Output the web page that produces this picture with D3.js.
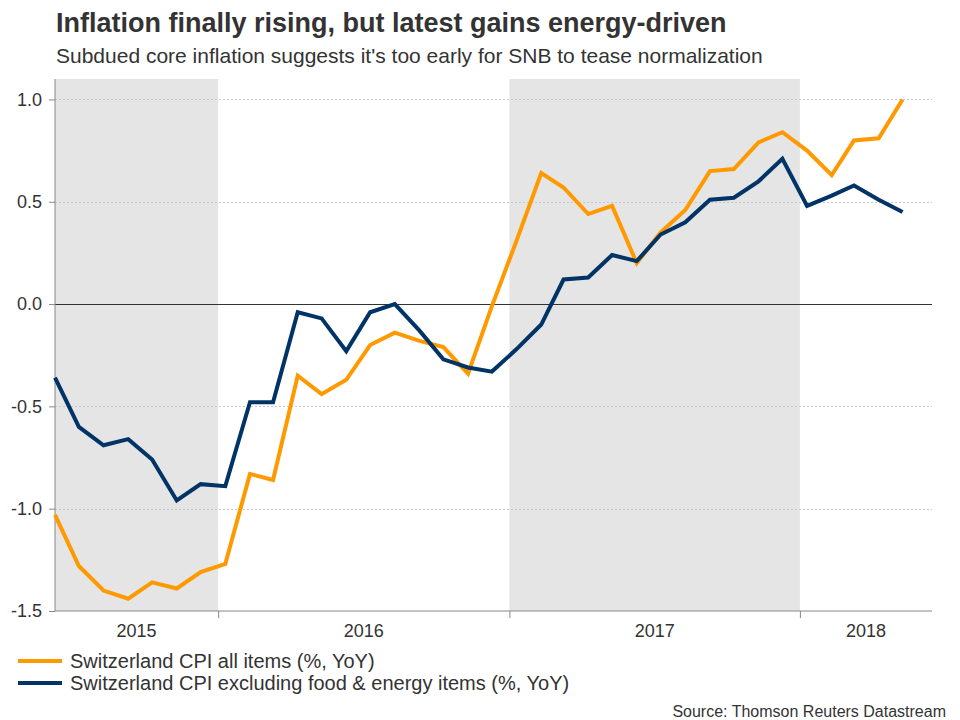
<!DOCTYPE html>
<html>
<head>
<meta charset="utf-8">
<script src="https://cdn.jsdelivr.net/npm/d3@7"></script>
<style>
  body { margin: 0; background: #fff; }
  svg { display: block; font-family: 'Liberation Sans', Arial, sans-serif; }
</style>
</head>
<body>
<div id="chart"></div>
<script>
// monthly readings, Jun 2015 - May 2018
const months = [
  '2015-06', '2015-07', '2015-08', '2015-09', '2015-10', '2015-11', '2015-12',
  '2016-01', '2016-02', '2016-03', '2016-04', '2016-05', '2016-06',
  '2016-07', '2016-08', '2016-09', '2016-10', '2016-11', '2016-12',
  '2017-01', '2017-02', '2017-03', '2017-04', '2017-05', '2017-06',
  '2017-07', '2017-08', '2017-09', '2017-10', '2017-11', '2017-12',
  '2018-01', '2018-02', '2018-03', '2018-04', '2018-05'
];

const cpiAll = [
  -1.03, -1.28, -1.40, -1.44, -1.36, -1.39, -1.31,
  -1.27, -0.83, -0.86, -0.35, -0.44, -0.37,
  -0.20, -0.14, -0.18, -0.21, -0.34, -0.01,
  0.31, 0.64, 0.57, 0.44, 0.48, 0.20,
  0.35, 0.46, 0.65, 0.66, 0.79, 0.84,
  0.75, 0.63, 0.80, 0.81, 1.00
];

const cpiCore = [
  -0.36, -0.60, -0.69, -0.66, -0.76, -0.96, -0.88,
  -0.89, -0.48, -0.48, -0.04, -0.07, -0.23,
  -0.04, 0.00, -0.13, -0.27, -0.31, -0.33,
  -0.22, -0.10, 0.12, 0.13, 0.24, 0.21,
  0.34, 0.40, 0.51, 0.52, 0.60, 0.71,
  0.48, 0.53, 0.58, 0.51, 0.45
];

const yTicks = [-1.5, -1.0, -0.5, 0.0, 0.5, 1.0];
const years = [2015, 2016, 2017, 2018];
const shadedYears = [2015, 2017];

const seriesNames = [
  'Switzerland CPI all items (%, YoY)',
  'Switzerland CPI excluding food & energy items (%, YoY)'
];
const seriesColors = ['#ff9900', '#003366'];

const W = 960, H = 720;
const margin = { top: 79, bottom: 109, left: 55, right: 28 };

const svg = d3
  .select('#chart')
  .append('svg')
  .attr('width', W)
  .attr('height', H);

const parse = d3.timeParse('%Y-%m-%d');
const dates = months.map((m) => parse(m + '-10'));

const x = d3
  .scaleTime()
  .domain([parse('2015-06-10'), parse('2018-06-16')])
  .range([margin.left, W - margin.right]);

const y = d3
  .scaleLinear()
  .domain([-1.5, 1.1])
  .range([H - margin.bottom, margin.top]);

const [x0, x1] = x.range();
const [yb, yt] = y.range();
const fmt = (d) => d3.format('.1f')(d).replace('\u2212', '-');

// shaded year bands
svg
  .selectAll('rect.band')
  .data(shadedYears)
  .enter()
  .append('rect')
  .attr('class', 'band')
  .attr('x', (d) => Math.max(x0, x(new Date(d, 0, 1))))
  .attr('width', (d) => Math.min(x1, x(new Date(d + 1, 0, 1))) - Math.max(x0, x(new Date(d, 0, 1))))
  .attr('y', yt)
  .attr('height', yb - yt)
  .attr('fill', '#e5e5e5');

// dotted grid
svg
  .selectAll('line.grid')
  .data(yTicks.filter((d) => d !== 0 && d !== -1.5))
  .enter()
  .append('line')
  .attr('x1', x0)
  .attr('x2', x1)
  .attr('y1', (d) => Math.round(y(d)) + 0.5)
  .attr('y2', (d) => Math.round(y(d)) + 0.5)
  .attr('stroke', '#c8c8c8')
  .attr('stroke-width', 1)
  .attr('stroke-dasharray', '2,2');

// zero line
svg
  .append('line')
  .attr('x1', x0)
  .attr('x2', x1)
  .attr('y1', Math.round(y(0)) + 0.5)
  .attr('y2', Math.round(y(0)) + 0.5)
  .attr('stroke', '#333')
  .attr('stroke-width', 1);

// y axis
const yAxis = svg
  .append('g')
  .attr('transform', `translate(${x0},0)`)
  .call(
    d3.axisLeft(y)
      .tickValues(yTicks)
      .tickFormat(fmt)
      .tickSize(6)
      .tickPadding(7)
  );
yAxis.select('.domain').attr('stroke', '#888').attr('d', `M0,${yt}V${yb}`);
yAxis.selectAll('.tick line').attr('stroke', '#888');
yAxis.selectAll('text').attr('fill', '#333').style('font-size', '18px');

// x axis: ticks on year boundaries, labels centred in each year
const xAxis = svg
  .append('g')
  .attr('transform', `translate(0,${yb})`)
  .call(
    d3.axisBottom(x)
      .tickValues(years.slice(1).map((d) => new Date(d, 0, 1)))
      .tickFormat('')
      .tickSize(7)
  );
xAxis.select('.domain').attr('stroke', '#888').attr('d', `M${x0},0H${x1}`);
xAxis.selectAll('.tick line').attr('stroke', '#888');

svg
  .selectAll('text.year')
  .data(years)
  .enter()
  .append('text')
  .attr('class', 'year')
  .attr('x', (d) => {
    const a = Math.max(x0, x(new Date(d, 0, 1)));
    const b = Math.min(x1, x(new Date(d + 1, 0, 1)));
    return (a + b) / 2;
  })
  .attr('y', yb + 26)
  .attr('text-anchor', 'middle')
  .attr('fill', '#333')
  .style('font-size', '18px')
  .text((d) => d);

// lines
const line = d3
  .line()
  .x((d, i) => x(dates[i]))
  .y((d) => y(d));

[cpiAll, cpiCore].forEach((s, i) => {
  svg
    .append('path')
    .datum(s)
    .attr('fill', 'none')
    .attr('stroke', seriesColors[i])
    .attr('stroke-width', 4)
    .attr('d', line);
});

// title and subtitle
svg
  .append('text')
  .attr('x', 56)
  .attr('y', 32)
  .attr('fill', '#333')
  .style('font-size', '27px')
  .style('font-weight', 'bold')
  .text('Inflation finally rising, but latest gains energy-driven');

svg
  .append('text')
  .attr('x', 56)
  .attr('y', 63)
  .attr('fill', '#333')
  .style('font-size', '21px')
  .text("Subdued core inflation suggests it's too early for SNB to tease normalization");

// legend
const legend = svg
  .selectAll('g.legend')
  .data(seriesNames)
  .enter()
  .append('g')
  .attr('class', 'legend')
  .attr('transform', (d, i) => `translate(18,${661 + i * 22})`);

legend
  .append('line')
  .attr('x1', 0)
  .attr('x2', 44)
  .attr('stroke', (d, i) => seriesColors[i])
  .attr('stroke-width', 4);

legend
  .append('text')
  .attr('x', 52)
  .attr('y', 7)
  .attr('fill', '#333')
  .style('font-size', '20px')
  .text((d) => d);

// source
svg
  .append('text')
  .attr('x', 946)
  .attr('y', 717)
  .attr('text-anchor', 'end')
  .attr('fill', '#333')
  .style('font-size', '16px')
  .text('Source: Thomson Reuters Datastream');
</script>
</body>
</html>
